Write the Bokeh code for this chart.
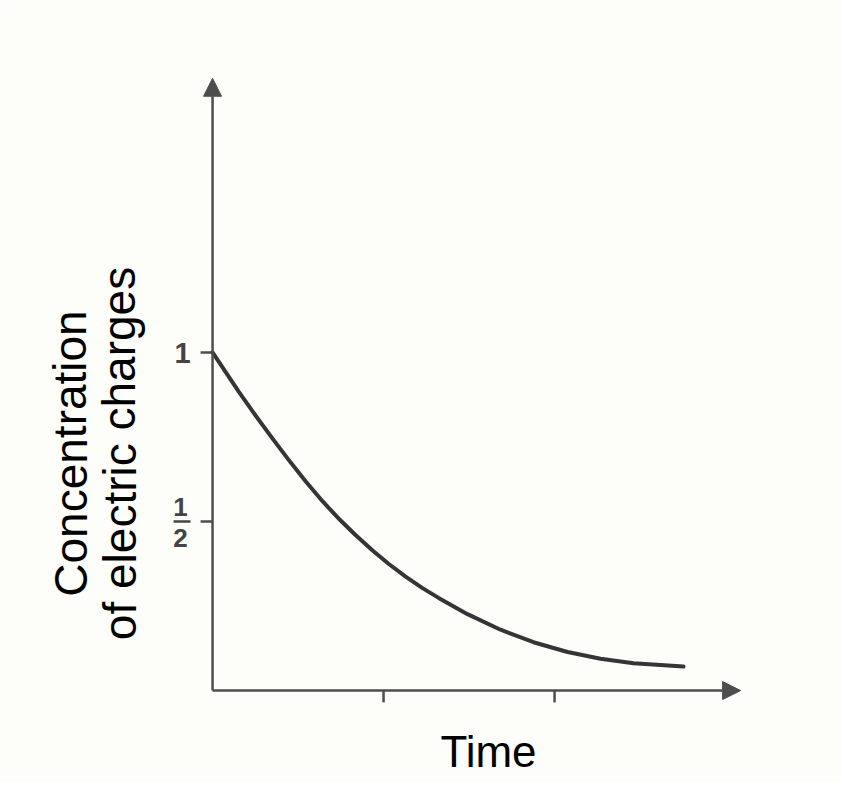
from bokeh.plotting import figure
from bokeh.models import Arrow, NormalHead, Label, Range1d
from bokeh.core.properties import value
from bokeh.embed import file_html
from bokeh.resources import INLINE

# ---- data ----
time = [0.0, 0.152, 0.251, 0.351, 0.444, 0.544, 0.643, 0.737, 0.836, 0.936, 1.029,
        1.129, 1.228, 1.322, 1.491, 1.684, 1.877, 2.076, 2.269, 2.462, 2.754]
conc = [1.0, 0.885, 0.814, 0.745, 0.683, 0.619, 0.560, 0.509, 0.460, 0.414, 0.375,
        0.337, 0.303, 0.274, 0.226, 0.180, 0.143, 0.114, 0.094, 0.081, 0.071]

y_ticks = [1.0, 0.5]
x_ticks = [1.0, 2.0]
x_axis_end = 3.088
y_axis_end = 1.811

y_label_lines = ["Concentration", "of electric charges"]
x_label = "Time"

BG = "#fdfdfa"
AXIS = "#4d4d4d"
CURVE = "#353535"
TICKTXT = "#444444"

W, H = 841, 781
p = figure(width=W, height=H, output_backend="svg", toolbar_location=None,
           x_range=Range1d(-1.240, 3.678), y_range=Range1d(-0.269, 2.041),
           min_border=0, x_axis_type=None, y_axis_type=None,
           background_fill_color=BG, border_fill_color=BG)
p.outline_line_color = None
p.grid.visible = False

# axes with arrowheads
p.add_layout(Arrow(end=NormalHead(size=18, fill_color=AXIS, line_color=AXIS),
                   x_start=0, y_start=0, x_end=0, y_end=y_axis_end,
                   line_width=2.5, line_color=AXIS))
p.add_layout(Arrow(end=NormalHead(size=18, fill_color=AXIS, line_color=AXIS),
                   x_start=0, y_start=0, x_end=x_axis_end, y_end=0,
                   line_width=2.5, line_color=AXIS))

# tick marks
p.segment(x0=[-0.07] * len(y_ticks), y0=y_ticks, x1=[0] * len(y_ticks), y1=y_ticks,
          line_color=AXIS, line_width=2.5)
p.segment(x0=x_ticks, y0=[0] * len(x_ticks), x1=x_ticks, y1=[-0.035] * len(x_ticks),
          line_color=AXIS, line_width=2.5)

# y tick labels: "1" and the fraction 1/2
p.text(x=[0], y=[y_ticks[0]], text=["1"], x_offset=-30, y_offset=1,
       text_font=value("Liberation Sans"), text_font_style="bold",
       text_font_size="29px", text_color=TICKTXT,
       text_align="center", text_baseline="middle")
p.text(x=[0, 0], y=[y_ticks[1], y_ticks[1]], text=["1", "2"], x_offset=-32,
       y_offset=[-15, 16], text_font=value("Liberation Sans"), text_font_style="bold",
       text_font_size="26px", text_color=TICKTXT,
       text_align="center", text_baseline="middle")
p.segment(x0=[-0.228], y0=[y_ticks[1]], x1=[-0.129], y1=[y_ticks[1]],
          line_color=TICKTXT, line_width=2.5)

# curve
p.line(time, conc, line_color=CURVE, line_width=4, line_join="round", line_cap="round")

# axis titles
for txt, xs in zip(y_label_lines, [70, 119]):
    p.add_layout(Label(x=xs, y=328, x_units="screen", y_units="screen", text=txt,
                       angle=1.5708, text_align="center", text_baseline="alphabetic",
                       text_font="Liberation Sans", text_font_size="46px",
                       text_color="#000000"))
p.add_layout(Label(x=488, y=30, x_units="screen", y_units="screen", text=x_label,
                   text_align="center", text_baseline="alphabetic",
                   text_font="Liberation Sans", text_font_size="44px",
                   text_color="#000000"))

open("out.html", "w").write(file_html(p, INLINE))
